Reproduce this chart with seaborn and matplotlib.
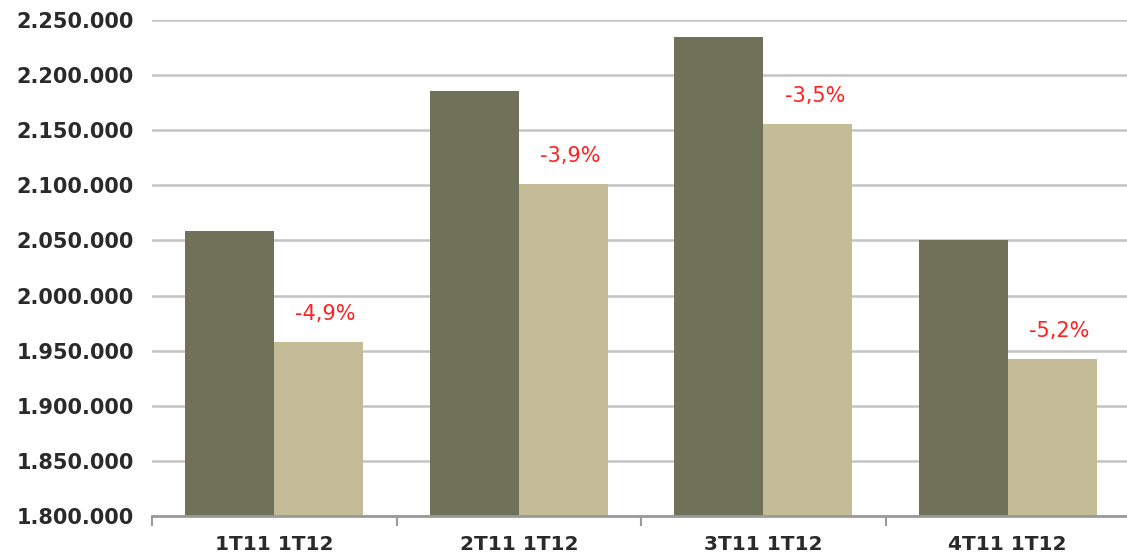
import matplotlib
matplotlib.use("Agg")
import matplotlib.pyplot as plt
import seaborn as sns
import pandas as pd
import numpy as np
from matplotlib.ticker import FuncFormatter, MultipleLocator, FixedLocator

categories = ["1T11 1T12", "2T11 1T12", "3T11 1T12", "4T11 1T12"]
series_names = ["2011", "2012"]
values_2011 = [2059000, 2185500, 2234500, 2050000]
values_2012 = [1958000, 2101500, 2155500, 1942000]
pct_labels = ["-4,9%", "-3,9%", "-3,5%", "-5,2%"]

df = pd.DataFrame({
    "cat": categories * 2,
    "serie": [series_names[0]] * 4 + [series_names[1]] * 4,
    "val": values_2011 + values_2012,
})

sns.set_theme(style="white")
plt.rcParams["font.family"] = ["DejaVu Sans"]

W, H = 1127, 556
fig = plt.figure(figsize=(W / 100, H / 100), dpi=100)
ax = fig.add_axes([152 / W, 40 / H, (1130 - 152) / W, 496 / H])

sns.barplot(data=df, x="cat", y="val", hue="serie", order=categories,
            hue_order=series_names, palette=["#6f7259", "#c4bc97"],
            width=0.728, gap=0, ax=ax, legend=False, saturation=1,
            linewidth=0, edgecolor="none")

ax.set_ylim(1800000, 2250000)
ax.set_xlim(-0.5, 3.5)
ax.yaxis.set_major_locator(MultipleLocator(50000))
ax.yaxis.set_major_formatter(FuncFormatter(lambda v, p: f"{int(v):,}".replace(",", ".")))
ax.grid(axis="y", color="#c4c4c4", linewidth=1.8)
ax.set_axisbelow(True)

for s in ["left", "right", "top"]:
    ax.spines[s].set_visible(False)
ax.spines["bottom"].set_color("#9a9a9a")
ax.spines["bottom"].set_linewidth(2)

ax.set_xlabel("")
ax.set_ylabel("")
ax.tick_params(axis="y", length=0, pad=13, labelsize=15, labelcolor="#2a2a2a")
ax.tick_params(axis="x", which="major", length=0, pad=14, labelsize=14.5, labelcolor="#2a2a2a")
ax.xaxis.set_minor_locator(FixedLocator(np.arange(-0.5, 4.0, 1.0)))
ax.tick_params(axis="x", which="minor", bottom=True, length=7, width=1.5,
               color="#9a9a9a", direction="out")
for lab in ax.get_xticklabels() + ax.get_yticklabels():
    lab.set_fontweight("bold")

# annotations above the 2012 bars
bars_2012 = ax.containers[1]
for rect, txt in zip(bars_2012, pct_labels):
    cx = rect.get_x() + rect.get_width() / 2
    top = rect.get_height() + rect.get_y()
    ax.annotate(txt, xy=(cx, top), xytext=(5, 13), textcoords="offset points",
                ha="center", va="bottom", color="#ff2020", fontsize=15)

fig.savefig("out.png", dpi=100)
